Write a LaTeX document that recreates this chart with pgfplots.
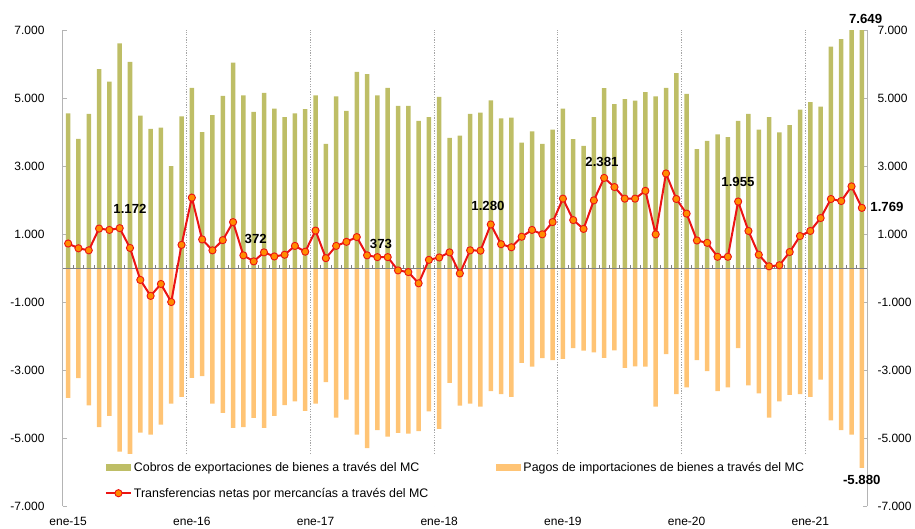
\documentclass[border=0pt]{standalone}
\usepackage{fontspec}
\setmainfont{Liberation Sans}
\usepackage{pgfplots}
\usepackage{pgfplotstable}
\pgfplotsset{compat=1.18}
\definecolor{expcol}{RGB}{190,190,102}
\definecolor{impcol}{RGB}{255,196,117}
\definecolor{netline}{RGB}{235,20,20}
\definecolor{netmark}{RGB}{255,140,0}
\definecolor{gridcol}{RGB}{165,165,165}
\definecolor{spine}{RGB}{180,180,180}

\pgfplotstableread{
m exp imp net
0 4550 -3820 720
1 3800 -3240 580
2 4530 -4040 520
3 5850 -4680 1160
4 5480 -4350 1120
5 6610 -5400 1172
6 6060 -5470 590
7 4480 -4840 -350
8 4090 -4900 -820
9 4130 -4610 -470
10 3000 -3990 -1000
11 4460 -3790 680
12 5300 -3230 2070
13 4000 -3180 840
14 4500 -3990 520
15 5060 -4260 820
16 6040 -4700 1350
17 5080 -4680 372
18 4590 -4410 195
19 5150 -4700 460
20 4690 -4350 340
21 4440 -4030 390
22 4550 -3920 650
23 4670 -4200 480
24 5080 -3990 1100
25 3650 -3360 290
26 5050 -4400 650
27 4620 -3870 770
28 5770 -4900 910
29 5700 -5300 373
30 5080 -4770 320
31 5300 -4960 320
32 4770 -4850 -70
33 4770 -4870 -120
34 4330 -4800 -450
35 4440 -4220 240
36 5030 -4730 310
37 3830 -3380 460
38 3890 -4050 -160
39 4530 -3990 520
40 4570 -4080 510
41 4930 -3620 1280
42 4400 -3710 700
43 4420 -3790 610
44 3690 -2790 920
45 4020 -2900 1120
46 3650 -2650 990
47 4070 -2710 1350
48 4690 -2670 2040
49 3790 -2360 1410
50 3590 -2430 1150
51 4440 -2480 1990
52 5290 -2640 2650
53 4820 -2420 2381
54 4970 -2940 2040
55 4920 -2890 2040
56 5170 -2900 2270
57 5050 -4080 990
58 5300 -2530 2780
59 5730 -3710 2030
60 5120 -3510 1600
61 3500 -2710 810
62 3740 -3030 740
63 3930 -3620 330
64 3850 -3510 330
65 4330 -2360 1955
66 4530 -3450 1090
67 4070 -3690 390
68 4440 -4400 50
69 3990 -3920 80
70 4200 -3730 470
71 4660 -3710 940
72 4880 -3790 1090
73 4750 -3280 1470
74 6510 -4480 2030
75 6730 -4770 1970
76 7300 -4900 2400
77 7649 -5880 1769
}\data

\begin{document}
\begin{tikzpicture}[x=1pt,y=1pt]
\useasboundingbox (-63pt,-22pt) rectangle (852pt,506pt);
\begin{axis}[
  at={(0pt,0pt)}, anchor=south west,
  scale only axis, width=804pt, height=476pt,
  xmin=-0.5, xmax=77.5, ymin=-7000, ymax=7000,
  clip mode=individual,
  separate axis lines,
  x axis line style={draw=none},
  y axis line style={spine, line width=1pt},
  scaled y ticks=false,
  ytick={-7000,-5000,...,7000},
  yticklabel pos=left,
  ytick pos=both,
  tick align=inside,
  major tick length=4pt,
  y tick style={spine, line width=0.9pt},
  xtick={0,12,...,72},
  xticklabels={ene-15,ene-16,ene-17,ene-18,ene-19,ene-20,ene-21},
  x tick style={draw=none},
  xticklabel style={yshift=-8pt},
  yticklabel style={xshift=-15pt},
  ticklabel style={font=\fontsize{12}{14}\selectfont, text=black},
  /pgf/number format/fixed,
  /pgf/number format/1000 sep={.},
  /pgf/number format/assume math mode=true,
  extra x ticks={11.5,23.5,35.5,47.5,59.5,71.5},
  extra x tick labels={},
  extra x tick style={grid=major, major grid style={gridcol, line width=0.7pt, dash pattern=on 1.3pt off 1.3pt}, tick style={draw=none}},
  legend columns=2,
  legend cell align=left,
  legend style={at={(0.047,0.107)}, anchor=north west, draw=none, fill=white,
    inner xsep=4pt, inner ysep=5pt,
    font=\fontsize{12.4}{14}\selectfont, row sep=11pt,
    /tikz/every even column/.append style={column sep=66pt}},
]
\addplot[ybar, bar width=4.5pt, bar shift=0pt, fill=expcol, draw=none,
  legend image code/.code={\fill[expcol] (0pt,-3.3pt) rectangle (25pt,3.3pt);}]
  table[x=m,y=exp]{\data};
\addlegendentry{Cobros de exportaciones de bienes a través del MC}
\addplot[ybar, bar width=4.5pt, bar shift=0pt, fill=impcol, draw=none,
  legend image code/.code={\fill[impcol] (0pt,-3.3pt) rectangle (25pt,3.3pt);}]
  table[x=m,y=imp]{\data};
\addlegendentry{Pagos de importaciones de bienes a través del MC}
\draw[gray, line width=1pt] (axis cs:-0.5,0) -- (axis cs:77.5,0);
\pgfplotsinvokeforeach{0,...,76}{\draw[gray, line width=0.7pt] (axis cs:#1+0.5,0) -- ++(0pt,3pt);}
\addplot[netline, line width=2pt, mark=*, mark size=3.6pt,
  mark options={fill=netmark, draw=netline, line width=0.9pt},
  legend image code/.code={\draw[mark repeat=2,mark phase=2] plot coordinates {(0pt,0pt)(12.5pt,0pt)(25pt,0pt)};}]
  table[x=m,y=net]{\data};
\addlegendentry{Transferencias netas por mercancías a través del MC}
\begin{scope}[every node/.style={font=\bfseries\fontsize{13.2}{15}\selectfont, text=black, inner sep=0pt}]
\node at (axis cs:6.0,1735) {1.172};
\node at (axis cs:18.2,862) {372};
\node at (axis cs:30.35,697) {373};
\node at (axis cs:40.73,1832) {1.280};
\node at (axis cs:51.79,3126) {2.381};
\node at (axis cs:64.98,2538) {1.955};
\node at (axis cs:79.44,1785) {1.769};
\node at (axis cs:77.37,7315) {7.649};
\node at (axis cs:76.99,-6235) {-5.880};
\end{scope}
\end{axis}
\begin{axis}[
  at={(0pt,0pt)}, anchor=south west,
  scale only axis, width=804pt, height=476pt,
  xmin=-0.5, xmax=77.5, ymin=-7000, ymax=7000,
  separate axis lines,
  axis line style={draw=none},
  xtick=\empty,
  scaled y ticks=false,
  ytick={-7000,-5000,...,7000},
  ytick pos=right, yticklabel pos=right,
  major tick length=0pt,
  yticklabel style={xshift=7pt},
  ticklabel style={font=\fontsize{12}{14}\selectfont, text=black},
  /pgf/number format/fixed,
  /pgf/number format/1000 sep={.},
  /pgf/number format/assume math mode=true,
]
\end{axis}
\end{tikzpicture}
\end{document}
